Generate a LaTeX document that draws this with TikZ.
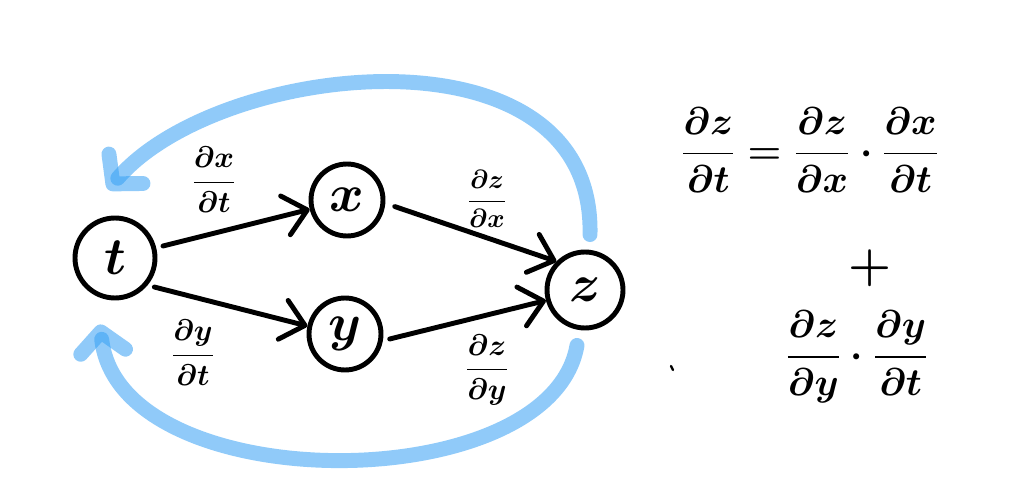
\documentclass[tikz,border=0pt]{standalone}
\usepackage{fix-cm}
\usepackage{amsmath}
\usepackage{tikz}
\usetikzlibrary{arrows.meta, calc}

\definecolor{loopblue}{RGB}{53,159,244}

\begin{document}
\begin{tikzpicture}[
    x=0.02cm, y=-0.02cm,
    var/.style={circle, draw=black, line width=2.8pt, inner sep=0pt, font=\fontsize{30}{32}\selectfont\boldmath},
    lbl/.style={inner sep=0pt, font=\fontsize{17}{20}\selectfont\boldmath},
    eqn/.style={inner sep=0pt, font=\fontsize{22}{26}\selectfont\boldmath},
    arrow/.style={-{Straight Barb[length=0.45cm, width=0.8cm, round]}, line width=2.8pt, line cap=round, shorten <=4pt},
    back/.style={-{Straight Barb[length=0.4cm, width=0.9cm, round]}, line width=8.5pt, line cap=round, draw=loopblue, opacity=0.55}
]
\useasboundingbox (0,0) rectangle (1024,503);

\node[var, minimum size=1.6cm] (t) at (115,258) {$t$};
\node[var, minimum size=1.44cm] (x) at (347,200) {$x$};
\node[var, minimum size=1.44cm] (y) at (345,334) {$y$};
\node[var, minimum size=1.52cm] (z) at (585,290) {$z$};

% partial derivatives on the edges
\node[lbl] (dxdt) at (214,180) {$\dfrac{\partial x}{\partial t}$};
\node[lbl] (dydt) at (193,353) {$\dfrac{\partial y}{\partial t}$};
\node[lbl, font=\fontsize{15}{18}\selectfont\boldmath] (dzdx) at (487,199) {$\dfrac{\partial z}{\partial x}$};
\node[lbl] (dzdy) at (487,370) {$\dfrac{\partial z}{\partial y}$};

\draw[arrow] (t) -- (x);
\draw[arrow] (t.-40) -- (y.168);
\draw[arrow, shorten <=0.2cm] (x.-5) -- (z.135);
\draw[arrow] (y.-10) -- (z.195);

% going back from z to t
\draw[back] ($(z.north)+(5,-15)$) .. controls (595,20) and (220,60) .. ($(t.north)+(-7,-26)$);
\draw[back] ($(z.south)+(-8,15)$) .. controls (550,500) and (120,500) .. ($(t.south)+(-15,24)$);

% chain rule
\node[eqn] (sum1) at (810,150) {$\dfrac{\partial z}{\partial t}=\dfrac{\partial z}{\partial x}\cdot\dfrac{\partial x}{\partial t}$};
\node[eqn, font=\fontsize{28}{30}\selectfont\boldmath] (plus) at (870,268) {$+$};
\node[eqn] (sum2) at (857,357) {$\dfrac{\partial z}{\partial y}\cdot\dfrac{\partial y}{\partial t}$};

\draw[line width=1.3pt, line cap=round] (671,366) -- (673,370);

\end{tikzpicture}
\end{document}
